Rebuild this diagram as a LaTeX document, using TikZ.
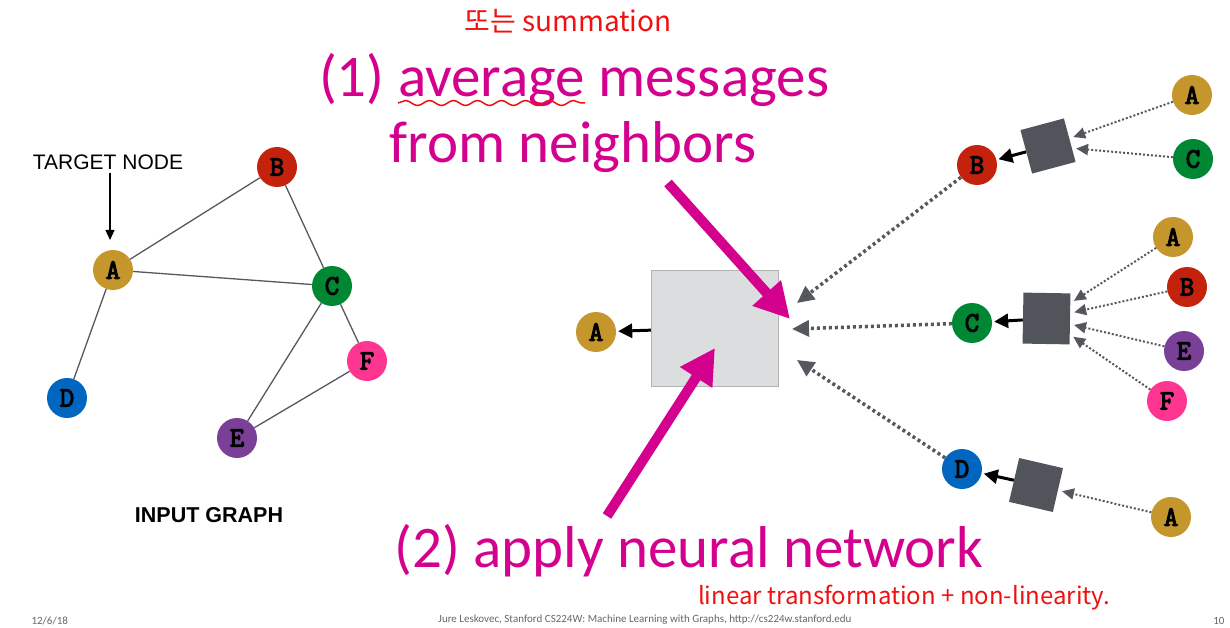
\documentclass[tikz,border=0pt]{standalone}
\usepackage{fontspec}
\setmainfont{Liberation Sans}
\newfontfamily\letterfont[FakeBold=4]{Latin Modern Mono}
\newfontfamily\slidefont{Carlito}
\newfontfamily\handfont{Noto Sans CJK KR}
\usetikzlibrary{arrows.meta,decorations.pathmorphing}

\definecolor{nodeA}{HTML}{C4962C}
\definecolor{nodeB}{HTML}{C5220E}
\definecolor{nodeC}{HTML}{008733}
\definecolor{nodeD}{HTML}{0066BF}
\definecolor{nodeE}{HTML}{7A3F97}
\definecolor{nodeF}{HTML}{FF3592}
\definecolor{edgegray}{HTML}{55595E}
\definecolor{sqgray}{HTML}{51555B}
\definecolor{boxgray}{HTML}{DCDDDF}
\definecolor{slidepink}{HTML}{D4008E}
\definecolor{inkred}{HTML}{F01010}

\begin{document}
\begin{tikzpicture}[x=1pt,y=-1pt,
		vertex/.style={circle,minimum size=40pt,inner sep=0pt,
			font=\letterfont\fontsize{28}{28}\selectfont},
		agg/.style={rectangle,fill=sqgray,minimum size=45pt,inner sep=0pt},
		msg/.style={draw=edgegray,line width=2pt,dash pattern=on 2pt off 2pt,
			-{Triangle[length=12pt,width=11pt,fill=sqgray]},shorten >=4pt},
		bigmsg/.style={draw=edgegray,line width=3.5pt,dash pattern=on 3pt off 3pt,
			-{Triangle[length=17pt,width=16pt,fill=sqgray]}},
		outarrow/.style={draw=black,line width=3pt,-{Triangle[length=14pt,width=14pt]},shorten >=2pt},
		callout/.style={draw=slidepink,line width=10pt,-{Triangle[length=35pt,width=36pt]}},
		slide/.style={text=slidepink,font=\slidefont\fontsize{59}{59}\selectfont,anchor=base},
		ink/.style={text=inkred,font=\handfont\fontsize{24}{24}\selectfont},
		footer/.style={text=black!60,font=\slidefont\fontsize{11}{11}\selectfont,anchor=south}]
	\useasboundingbox (0,0) rectangle (1230,628);

	% input graph
	\draw
		(113,270) node [vertex,fill=nodeA] (a) {A}
		(277,167) node [vertex,fill=nodeB] (b) {B}
		(332,286) node [vertex,fill=nodeC] (c) {C}
		(67,398) node [vertex,fill=nodeD] (d) {D}
		(237,438) node [vertex,fill=nodeE] (e) {E}
		(367,361) node [vertex,fill=nodeF] (f) {F}
		;
	\draw[edgegray,line width=1.3pt]
		(a) edge (b)
		    edge (c)
		    edge (d)
		(c) edge (b)
		    edge (e)
		    edge (f)
		(e) edge (f)
		;
	\node[font=\fontsize{21}{21}\selectfont] (target) at (108,162) {TARGET NODE};
	\coordinate (tip) at (110,240);
	\draw[line width=1.2pt,-{Triangle[length=10pt,width=9pt]}] (target.south -| tip) -- (tip);
	\node[font=\bfseries\fontsize{21.5}{21.5}\selectfont] (input) at (209,515) {INPUT GRAPH};

	% aggregation tree
	\draw
		(596,332) node [vertex,fill=nodeA] (ma) {A}
		(714.5,328) node [rectangle,draw=black!30,fill=boxgray,minimum width=127pt,minimum height=116pt] (nn) {}
		(977,165) node [vertex,fill=nodeB] (rb) {B}
		(972,323) node [vertex,fill=nodeC] (rc) {C}
		(962,469) node [vertex,fill=nodeD] (rd) {D}
		(1048,146) node [agg,rotate=15] (sqb) {}
		(1046.5,318.5) node [agg,minimum width=47pt,minimum height=51pt,rotate=-1] (sqc) {}
		(1036,485) node [agg,rotate=-13] (sqd) {}
		(1192,95) node [vertex,fill=nodeA] (rba) {A}
		(1193,159) node [vertex,fill=nodeC] (rbc) {C}
		(1173,237) node [vertex,fill=nodeA] (rca) {A}
		(1187,287) node [vertex,fill=nodeB] (rcb) {B}
		(1184,351) node [vertex,fill=nodeE] (rce) {E}
		(1167,401) node [vertex,fill=nodeF] (rcf) {F}
		(1171,517) node [vertex,fill=nodeA] (rda) {A}
		;
	\draw[outarrow] (nn) -- (ma);
	\draw[outarrow] (sqb) -- (rb);
	\draw[outarrow] (sqc) -- (rc);
	\draw[outarrow] (sqd) -- (rd);
	\draw[msg] (rba) -- (sqb);
	\draw[msg] (rbc) -- (sqb);
	\draw[msg] (rca) -- (sqc);
	\draw[msg] (rcb) -- (sqc);
	\draw[msg] (rce) -- (sqc);
	\draw[msg] (rcf) -- (sqc);
	\draw[msg] (rda) -- (sqd);
	\coordinate (inb) at (797,303);
	\coordinate (inc) at (792,329);
	\coordinate (ind) at (797,360);
	\draw[bigmsg] (rb) -- (inb);
	\draw[bigmsg] (rc) -- (inc);
	\draw[bigmsg] (rd) -- (ind);

	% slide text
	\node[slide] (step1) at (574,97) {(1) average messages};
	\node[slide] (step1b) at (573,163) {from neighbors};
	\node[slide] (step2) at (689,567) {(2) apply neural network};
	\coordinate (s1) at (668,183);
	\coordinate (t1) at (790,319);
	\coordinate (s2) at (607,516);
	\coordinate (t2) at (715,348);
	\draw[callout] (s1) -- (t1);
	\draw[callout] (s2) -- (t2);

	% handwritten notes
	\node[ink,font=\handfont\fontsize{28}{28}\selectfont] (note1) at (568,21) {또는 summation};
	\draw[inkred,line width=1.5pt,decorate,decoration={snake,amplitude=2.5pt,segment length=24pt}]
		(398,103) -- (585,103);
	\node[ink] (note2) at (904,598) {linear transformation + non-linearity.};

	% footer
	\node[footer,anchor=south west] (date) at (28,628) {12/6/18};
	\node[footer] (credit) at (645,628)
		{Jure Leskovec, Stanford CS224W: Machine Learning with Graphs, http://cs224w.stanford.edu};
	\node[footer,anchor=south east] (page) at (1228,628) {10};
\end{tikzpicture}
\end{document}
